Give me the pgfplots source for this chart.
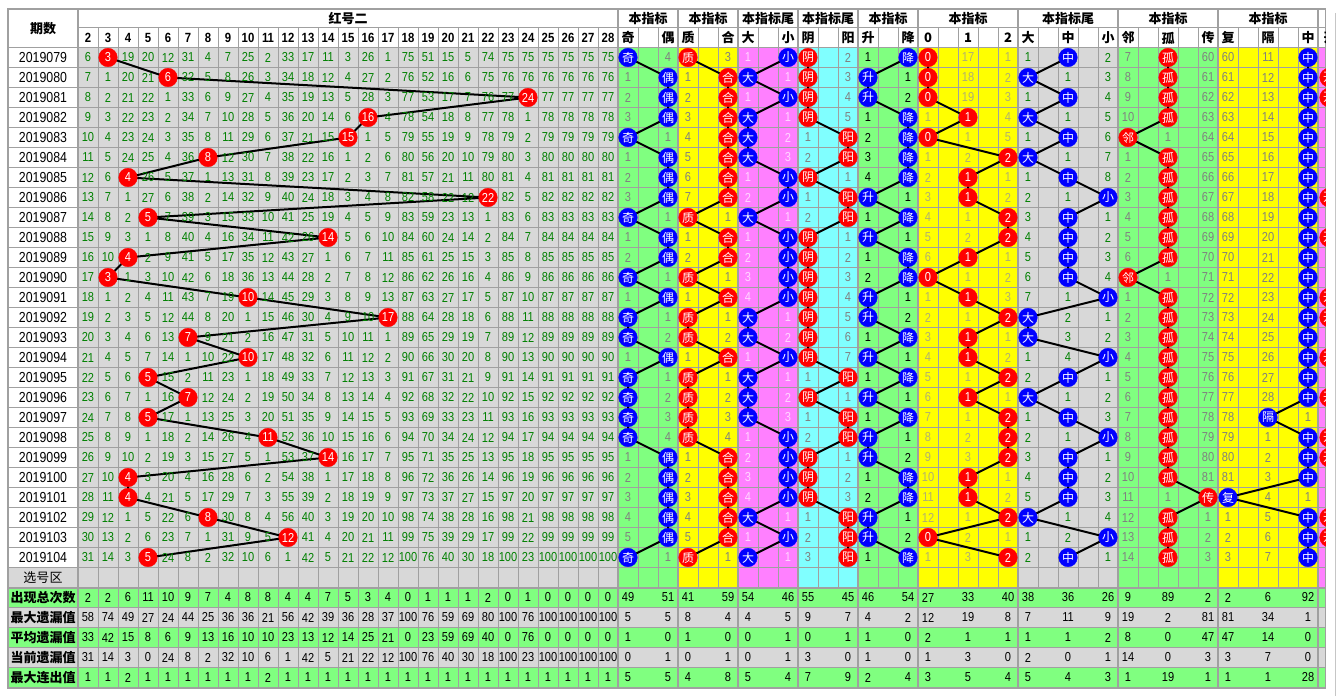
\documentclass[border=0pt]{standalone}
\usepackage{pgfplots}
\pgfplotsset{compat=1.18}
\usepackage{pgfplotstable}
\usepackage{fontspec}
\setmainfont{Liberation Sans}
\newfontfamily\numf[FakeStretch=0.85]{Liberation Sans}
\newfontfamily\cjk{Noto Sans CJK SC}
\definecolor{gridc}{RGB}{160,160,160}
\definecolor{cellg}{RGB}{216,216,216}
\definecolor{lgreen}{RGB}{128,255,128}
\definecolor{lyellow}{RGB}{255,255,0}
\definecolor{lpink}{RGB}{255,128,255}
\definecolor{lcyan}{RGB}{128,255,255}
\definecolor{dgreen}{RGB}{0,128,0}
\definecolor{tgray}{RGB}{128,128,128}
\definecolor{tpink}{RGB}{255,215,255}
\definecolor{tolive}{RGB}{176,176,112}
\definecolor{hred}{RGB}{255,0,0}
\definecolor{hblue}{RGB}{0,0,255}
\newcommand\fs[1]{\fontsize{#1}{#1}\selectfont}
\newcommand\cell{\if-\pgfplotspointmeta\else\pgfplotspointmeta\fi}

\pgfplotstableread{
c2 c3 c4 c5 c6 c7 c8 c9 c10 c11 c12 c13 c14 c15 c16 c17 c18 c19 c20 c21 c22 c23 c24 c25 c26 c27 c28
6 - 19 20 12 31 4 7 25 2 33 17 11 3 26 1 75 51 15 5 74 75 75 75 75 75 75
7 1 20 21 - 32 5 8 26 3 34 18 12 4 27 2 76 52 16 6 75 76 76 76 76 76 76
8 2 21 22 1 33 6 9 27 4 35 19 13 5 28 3 77 53 17 7 76 77 - 77 77 77 77
9 3 22 23 2 34 7 10 28 5 36 20 14 6 - 4 78 54 18 8 77 78 1 78 78 78 78
10 4 23 24 3 35 8 11 29 6 37 21 15 - 1 5 79 55 19 9 78 79 2 79 79 79 79
11 5 24 25 4 36 - 12 30 7 38 22 16 1 2 6 80 56 20 10 79 80 3 80 80 80 80
12 6 - 26 5 37 1 13 31 8 39 23 17 2 3 7 81 57 21 11 80 81 4 81 81 81 81
13 7 1 27 6 38 2 14 32 9 40 24 18 3 4 8 82 58 22 12 - 82 5 82 82 82 82
14 8 2 - 7 39 3 15 33 10 41 25 19 4 5 9 83 59 23 13 1 83 6 83 83 83 83
15 9 3 1 8 40 4 16 34 11 42 26 - 5 6 10 84 60 24 14 2 84 7 84 84 84 84
16 10 - 2 9 41 5 17 35 12 43 27 1 6 7 11 85 61 25 15 3 85 8 85 85 85 85
17 - 1 3 10 42 6 18 36 13 44 28 2 7 8 12 86 62 26 16 4 86 9 86 86 86 86
18 1 2 4 11 43 7 19 - 14 45 29 3 8 9 13 87 63 27 17 5 87 10 87 87 87 87
19 2 3 5 12 44 8 20 1 15 46 30 4 9 10 - 88 64 28 18 6 88 11 88 88 88 88
20 3 4 6 13 - 9 21 2 16 47 31 5 10 11 1 89 65 29 19 7 89 12 89 89 89 89
21 4 5 7 14 1 10 22 - 17 48 32 6 11 12 2 90 66 30 20 8 90 13 90 90 90 90
22 5 6 - 15 2 11 23 1 18 49 33 7 12 13 3 91 67 31 21 9 91 14 91 91 91 91
23 6 7 1 16 - 12 24 2 19 50 34 8 13 14 4 92 68 32 22 10 92 15 92 92 92 92
24 7 8 - 17 1 13 25 3 20 51 35 9 14 15 5 93 69 33 23 11 93 16 93 93 93 93
25 8 9 1 18 2 14 26 4 - 52 36 10 15 16 6 94 70 34 24 12 94 17 94 94 94 94
26 9 10 2 19 3 15 27 5 1 53 37 - 16 17 7 95 71 35 25 13 95 18 95 95 95 95
27 10 - 3 20 4 16 28 6 2 54 38 1 17 18 8 96 72 36 26 14 96 19 96 96 96 96
28 11 - 4 21 5 17 29 7 3 55 39 2 18 19 9 97 73 37 27 15 97 20 97 97 97 97
29 12 1 5 22 6 - 30 8 4 56 40 3 19 20 10 98 74 38 28 16 98 21 98 98 98 98
30 13 2 6 23 7 1 31 9 5 - 41 4 20 21 11 99 75 39 29 17 99 22 99 99 99 99
31 14 3 - 24 8 2 32 10 6 1 42 5 21 22 12 100 76 40 30 18 100 23 100 100 100 100
}\redtbl

\pgfplotstableread{
k n p
0 3 2019079
1 6 2019080
2 24 2019081
3 16 2019082
4 15 2019083
5 8 2019084
6 4 2019085
7 22 2019086
8 5 2019087
9 14 2019088
10 4 2019089
11 3 2019090
12 10 2019091
13 17 2019092
14 7 2019093
15 10 2019094
16 5 2019095
17 7 2019096
18 5 2019097
19 11 2019098
20 14 2019099
21 4 2019100
22 4 2019101
23 8 2019102
24 12 2019103
25 5 2019104
}\redhit

\pgfplotstableread{
a b h l
- 4 628 奇
1 - 668 偶
2 - 668 偶
3 - 668 偶
- 1 628 奇
1 - 668 偶
2 - 668 偶
3 - 668 偶
- 1 628 奇
1 - 668 偶
2 - 668 偶
- 1 628 奇
1 - 668 偶
- 1 628 奇
- 2 628 奇
1 - 668 偶
- 1 628 奇
- 2 628 奇
- 3 628 奇
- 4 628 奇
1 - 668 偶
2 - 668 偶
3 - 668 偶
4 - 668 偶
5 - 668 偶
- 1 628 奇
}\tJO

\pgfplotstableread{
a b h l
- 3 688 质
1 - 728 合
2 - 728 合
3 - 728 合
4 - 728 合
5 - 728 合
6 - 728 合
7 - 728 合
- 1 688 质
1 - 728 合
2 - 728 合
- 1 688 质
1 - 728 合
- 1 688 质
- 2 688 质
1 - 728 合
- 1 688 质
- 2 688 质
- 3 688 质
- 4 688 质
1 - 728 合
2 - 728 合
3 - 728 合
4 - 728 合
5 - 728 合
- 1 688 质
}\tZH

\pgfplotstableread{
a b h l
1 - 788 小
- 1 748 大
1 - 788 小
- 1 748 大
- 2 748 大
- 3 748 大
1 - 788 小
2 - 788 小
- 1 748 大
1 - 788 小
2 - 788 小
3 - 788 小
4 - 788 小
- 1 748 大
- 2 748 大
1 - 788 小
- 1 748 大
- 2 748 大
- 3 748 大
1 - 788 小
2 - 788 小
3 - 788 小
4 - 788 小
- 1 748 大
1 - 788 小
- 1 748 大
}\tDX

\pgfplotstableread{
a b h l
- 2 808 阴
- 3 808 阴
- 4 808 阴
- 5 808 阴
1 - 848 阳
2 - 848 阳
- 1 808 阴
1 - 848 阳
2 - 848 阳
- 1 808 阴
- 2 808 阴
- 3 808 阴
- 4 808 阴
- 5 808 阴
- 6 808 阴
- 7 808 阴
1 - 848 阳
- 1 808 阴
1 - 848 阳
2 - 848 阳
- 1 808 阴
- 2 808 阴
- 3 808 阴
1 - 848 阳
2 - 848 阳
3 - 848 阳
}\tYY

\pgfplotstableread{
a b h l
1 - 908 降
- 1 868 升
- 2 868 升
1 - 908 降
2 - 908 降
3 - 908 降
4 - 908 降
- 1 868 升
1 - 908 降
- 1 868 升
1 - 908 降
2 - 908 降
- 1 868 升
- 2 868 升
1 - 908 降
- 1 868 升
1 - 908 降
- 1 868 升
1 - 908 降
- 1 868 升
- 2 868 升
1 - 908 降
2 - 908 降
- 1 868 升
- 2 868 升
1 - 908 降
}\tSJ

\pgfplotstableread{
a b c h l
- 17 1 928 0
- 18 2 928 0
- 19 3 928 0
1 - 4 968 1
- 1 5 928 0
1 2 - 1008 2
2 - 1 968 1
3 - 2 968 1
4 1 - 1008 2
5 2 - 1008 2
6 - 1 968 1
- 1 2 928 0
1 - 3 968 1
2 1 - 1008 2
3 - 1 968 1
4 - 2 968 1
5 1 - 1008 2
6 - 1 968 1
7 1 - 1008 2
8 2 - 1008 2
9 3 - 1008 2
10 - 1 968 1
11 - 2 968 1
12 1 - 1008 2
- 2 1 928 0
1 3 - 1008 2
}\tMT

\pgfplotstableread{
a b c h l
1 - 2 1068 中
- 1 3 1028 大
1 - 4 1068 中
- 1 5 1028 大
1 - 6 1068 中
- 1 7 1028 大
1 - 8 1068 中
2 1 - 1108 小
3 - 1 1068 中
4 - 2 1068 中
5 - 3 1068 中
6 - 4 1068 中
7 1 - 1108 小
- 2 1 1028 大
- 3 2 1028 大
1 4 - 1108 小
2 - 1 1068 中
- 1 2 1028 大
1 - 3 1068 中
2 1 - 1108 小
3 - 1 1068 中
4 - 2 1068 中
5 - 3 1068 中
- 1 4 1028 大
1 2 - 1108 小
2 - 1 1068 中
}\tDZX

\pgfplotstableread{
a b c h l
7 - 60 1168 孤
8 - 61 1168 孤
9 - 62 1168 孤
10 - 63 1168 孤
- 1 64 1128 邻
1 - 65 1168 孤
2 - 66 1168 孤
3 - 67 1168 孤
4 - 68 1168 孤
5 - 69 1168 孤
6 - 70 1168 孤
- 1 71 1128 邻
1 - 72 1168 孤
2 - 73 1168 孤
3 - 74 1168 孤
4 - 75 1168 孤
5 - 76 1168 孤
6 - 77 1168 孤
7 - 78 1168 孤
8 - 79 1168 孤
9 - 80 1168 孤
10 - 81 1168 孤
11 1 - 1208 传
12 - 1 1168 孤
13 - 2 1168 孤
14 - 3 1168 孤
}\tLGC

\pgfplotstableread{
a b c h l
60 11 - 1308 中
61 12 - 1308 中
62 13 - 1308 中
63 14 - 1308 中
64 15 - 1308 中
65 16 - 1308 中
66 17 - 1308 中
67 18 - 1308 中
68 19 - 1308 中
69 20 - 1308 中
70 21 - 1308 中
71 22 - 1308 中
72 23 - 1308 中
73 24 - 1308 中
74 25 - 1308 中
75 26 - 1308 中
76 27 - 1308 中
77 28 - 1308 中
78 - 1 1268 隔
79 1 - 1308 中
80 2 - 1308 中
81 3 - 1308 中
- 4 1 1228 复
1 5 - 1308 中
2 6 - 1308 中
3 7 - 1308 中
}\tFGZ

\pgfplotstableread{
r l
1 开
2 开
7 开
9 开
12 开
13 开
15 开
17 开
19 开
20 开
23 开
24 开
}\tK

\pgfplotstableread{
n v1 v2 v3 v4 v5
2 2 58 33 31 1
3 2 74 42 14 1
4 6 49 15 3 2
5 11 27 8 0 1
6 10 24 6 24 1
7 9 44 9 8 1
8 7 25 13 2 1
9 4 36 16 32 1
10 8 36 10 10 1
11 8 21 10 6 2
12 4 56 23 1 1
13 4 42 13 42 1
14 7 39 12 5 1
15 5 36 14 21 1
16 3 28 25 22 1
17 4 37 21 12 1
18 0 100 0 100 1
19 1 76 23 76 1
20 1 59 59 40 1
21 1 69 69 30 1
22 2 80 40 18 1
23 0 100 0 100 1
24 1 76 76 23 1
25 0 100 0 100 1
26 0 100 0 100 1
27 0 100 0 100 1
28 0 100 0 100 1
}\redstat

\pgfplotstableread{
x v1 v2 v3 v4 v5
628 49 5 1 0 5
668 51 5 0 1 5
688 41 8 1 0 4
728 59 4 0 1 8
748 54 4 0 0 5
788 46 5 1 1 4
808 55 9 0 3 7
848 45 7 1 0 9
868 46 4 1 1 2
908 54 2 0 0 4
928 27 12 2 1 3
968 33 19 1 3 5
1008 40 8 1 0 4
1028 38 7 1 2 5
1068 36 11 1 0 4
1108 26 9 2 1 3
1128 9 19 8 14 1
1168 89 2 0 0 19
1208 2 81 47 3 1
1228 2 81 47 3 1
1268 6 34 14 7 1
1308 92 1 0 0 28
1330 4 - - - -
}\indstat

\pgfplotsset{
  txt/.style 2 args={draw=none, mark=none, point meta=explicit symbolic,
    nodes near coords={\cell},
    every node near coord/.append style={anchor=center, inner sep=0pt, outer sep=0pt, text=#1, font=#2}},
  hit/.style 2 args={black, line width=1.5pt, mark=*, mark size=7pt,
    mark options={draw=#1, fill=#1, line width=0.2pt}, point meta=explicit symbolic,
    nodes near coords={\pgfplotspointmeta},
    every node near coord/.append style={anchor=center, inner sep=0pt, outer sep=0pt, text=white, font=#2}},
}
\newcommand\nf{\numf\fs{9.75pt}}
\newcommand\cf{\cjk\fs{9pt}}
\newcommand\hb{\cjk\bfseries\fs{9.75pt}}

\begin{document}
\begin{tikzpicture}
\useasboundingbox (0,0) rectangle (1002.75pt,522pt);
\begin{scope}[x=0.75pt,y=-0.75pt,yshift=522pt]
\fill[white] (0,0) rectangle (1337,696);
\fill[cellg] (78,47.5) rectangle (618,587.5);
\fill[cellg] (8,567.5) rectangle (78,587.5);
\fill[lgreen] (618,47.5) rectangle (678,587.5);
\fill[lyellow] (678,47.5) rectangle (738,587.5);
\fill[lpink] (738,47.5) rectangle (798,587.5);
\fill[lcyan] (798,47.5) rectangle (858,587.5);
\fill[lgreen] (858,47.5) rectangle (918,587.5);
\fill[lyellow] (918,47.5) rectangle (1018,587.5);
\fill[cellg] (1018,47.5) rectangle (1118,587.5);
\fill[lgreen] (1118,47.5) rectangle (1218,587.5);
\fill[lyellow] (1218,47.5) rectangle (1318,587.5);
\fill[lpink] (1318,47.5) rectangle (1326,587.5);
\fill[lgreen] (8,587.5) rectangle (1326,607.5);
\fill[cellg] (8,607.5) rectangle (1326,627.5);
\fill[lgreen] (8,627.5) rectangle (1326,647.5);
\fill[cellg] (8,647.5) rectangle (1326,667.5);
\fill[lgreen] (8,667.5) rectangle (1326,687.5);
\begin{scope}[draw=gridc, line width=0.75pt]
\foreach \k in {0,...,26} \draw (8,47.5+20*\k) -- (1326,47.5+20*\k);
\draw (78,28) -- (1326,28);
\foreach \y in {607.5,627.5,647.5,667.5} \draw (8,\y) -- (1326,\y);
\foreach \x in {98,118,...,598} \draw (\x,28) -- (\x,687.5);
\foreach \x in {638,658,698,718,758,778,818,838,878,898,938,958,978,998,1038,1058,1078,1098,1138,1158,1178,1198,1238,1258,1278,1298} \draw (\x,28) -- (\x,587.5);
\end{scope}
\begin{scope}[draw=gridc, line width=1.5pt]
\draw (8,9) rectangle (1325.5,687.5);
\foreach \x in {78,618,678,738,798,858,918,1018,1118,1218,1318} \draw (\x,9) -- (\x,687.5);
\draw (8,587.5) -- (1326,587.5);
\end{scope}
\node[font=\hb] at (43,28.25) {期数};
\node[font=\hb] at (348,18.5) {红号二};
\foreach \x/\t in {648/本指标,708/本指标,768/本指标尾,828/本指标尾,888/本指标,968/本指标,1068/本指标尾,1168/本指标,1268/本指标}
  \node[font=\hb] at (\x,18.5) {\t};
\foreach \x/\t in {628/奇,668/偶,688/质,728/合,748/大,788/小,808/阴,848/阳,868/升,908/降,928/0,968/1,1008/2,1028/大,1068/中,1108/小,1128/邻,1168/孤,1208/传,1228/复,1268/隔,1308/中,1330/开}
  \node[font=\hb] at (\x,38) {\t};
\foreach \n in {2,...,28}
  \node[font=\numf\bfseries\fs{10pt}] at (48+20*\n,38) {\n};
\node[font=\cjk\fs{9.75pt}] at (43,577.5) {选号区};
\foreach \y/\t in {597.5/出现总次数,617.5/最大遗漏值,637.5/平均遗漏值,657.5/当前遗漏值,677.5/最大连出值}
  \node[font=\hb] at (43,\y) {\t};
\end{scope}

\begin{axis}[at={(0,0)}, anchor=south west, scale only axis,
  width=1002.75pt, height=522pt, xmin=0, xmax=1337, ymin=0, ymax=696,
  y dir=reverse, hide axis, clip=false]
% periods
\addplot[txt={black}{\numf\fs{10.9pt}}] table[x expr=43, y expr={57.5+20*\thisrow{k}}, meta=p] {\redhit};
% red area numbers
\pgfplotsinvokeforeach{2,...,28}{
  \addplot[txt={dgreen}{\nf}] table[x expr={88+20*(#1-2)}, y expr={57.5+20*\coordindex}, meta=c#1] {\redtbl};
}
% indicator numbers
\addplot[txt={tgray}{\nf}] table[x expr=628, y expr={57.5+20*\coordindex}, meta=a] {\tJO};
\addplot[txt={tgray}{\nf}] table[x expr=668, y expr={57.5+20*\coordindex}, meta=b] {\tJO};
\addplot[txt={tgray}{\nf}] table[x expr=688, y expr={57.5+20*\coordindex}, meta=a] {\tZH};
\addplot[txt={tgray}{\nf}] table[x expr=728, y expr={57.5+20*\coordindex}, meta=b] {\tZH};
\addplot[txt={tpink}{\nf}] table[x expr=748, y expr={57.5+20*\coordindex}, meta=a] {\tDX};
\addplot[txt={tpink}{\nf}] table[x expr=788, y expr={57.5+20*\coordindex}, meta=b] {\tDX};
\addplot[txt={tgray}{\nf}] table[x expr=808, y expr={57.5+20*\coordindex}, meta=a] {\tYY};
\addplot[txt={tgray}{\nf}] table[x expr=848, y expr={57.5+20*\coordindex}, meta=b] {\tYY};
\addplot[txt={black}{\nf}] table[x expr=868, y expr={57.5+20*\coordindex}, meta=a] {\tSJ};
\addplot[txt={black}{\nf}] table[x expr=908, y expr={57.5+20*\coordindex}, meta=b] {\tSJ};
\addplot[txt={tolive}{\nf}] table[x expr=928, y expr={57.5+20*\coordindex}, meta=a] {\tMT};
\addplot[txt={tolive}{\nf}] table[x expr=968, y expr={57.5+20*\coordindex}, meta=b] {\tMT};
\addplot[txt={tolive}{\nf}] table[x expr=1008, y expr={57.5+20*\coordindex}, meta=c] {\tMT};
\addplot[txt={dgreen}{\nf}] table[x expr=1028, y expr={57.5+20*\coordindex}, meta=a] {\tDZX};
\addplot[txt={dgreen}{\nf}] table[x expr=1068, y expr={57.5+20*\coordindex}, meta=b] {\tDZX};
\addplot[txt={dgreen}{\nf}] table[x expr=1108, y expr={57.5+20*\coordindex}, meta=c] {\tDZX};
\addplot[txt={tgray}{\nf}] table[x expr=1128, y expr={57.5+20*\coordindex}, meta=a] {\tLGC};
\addplot[txt={tgray}{\nf}] table[x expr=1168, y expr={57.5+20*\coordindex}, meta=b] {\tLGC};
\addplot[txt={tgray}{\nf}] table[x expr=1208, y expr={57.5+20*\coordindex}, meta=c] {\tLGC};
\addplot[txt={tgray}{\nf}] table[x expr=1228, y expr={57.5+20*\coordindex}, meta=a] {\tFGZ};
\addplot[txt={tgray}{\nf}] table[x expr=1268, y expr={57.5+20*\coordindex}, meta=b] {\tFGZ};
\addplot[txt={tgray}{\nf}] table[x expr=1308, y expr={57.5+20*\coordindex}, meta=c] {\tFGZ};
% stats
\pgfplotsinvokeforeach{1,...,5}{
  \addplot[txt={black}{\nf}] table[x expr={88+20*(\thisrow{n}-2)}, y expr={577.5+20*#1}, meta=v#1] {\redstat};
  \addplot[txt={black}{\nf}] table[x=x, y expr={577.5+20*#1}, meta=v#1] {\indstat};
}
% hits
\addplot[hit={hred}{\nf}] table[x expr={88+20*(\thisrow{n}-2)}, y expr={57.5+20*\thisrow{k}}, meta=n] {\redhit};
\addplot[hit={hblue}{\cf}] table[x=h, y expr={57.5+20*\coordindex}, meta=l] {\tJO};
\addplot[hit={hred}{\cf}] table[x=h, y expr={57.5+20*\coordindex}, meta=l] {\tZH};
\addplot[hit={hblue}{\cf}] table[x=h, y expr={57.5+20*\coordindex}, meta=l] {\tDX};
\addplot[hit={hred}{\cf}] table[x=h, y expr={57.5+20*\coordindex}, meta=l] {\tYY};
\addplot[hit={hblue}{\cf}] table[x=h, y expr={57.5+20*\coordindex}, meta=l] {\tSJ};
\addplot[hit={hred}{\nf}] table[x=h, y expr={57.5+20*\coordindex}, meta=l] {\tMT};
\addplot[hit={hblue}{\cf}] table[x=h, y expr={57.5+20*\coordindex}, meta=l] {\tDZX};
\addplot[hit={hred}{\cf}] table[x=h, y expr={57.5+20*\coordindex}, meta=l] {\tLGC};
\addplot[hit={hblue}{\cf}] table[x=h, y expr={57.5+20*\coordindex}, meta=l] {\tFGZ};
\addplot[hit={hred}{\cf}, only marks] table[x expr=1329, y expr={57.5+20*\thisrow{r}}, meta=l] {\tK};
\end{axis}

\begin{scope}[x=0.75pt,y=-0.75pt,yshift=522pt]
\fill[white] (1326.2,0) rectangle (1337,696);
\draw[gridc!60, line width=0.75pt] (1335,13) -- (1335,696);
\end{scope}
\end{tikzpicture}
\end{document}
